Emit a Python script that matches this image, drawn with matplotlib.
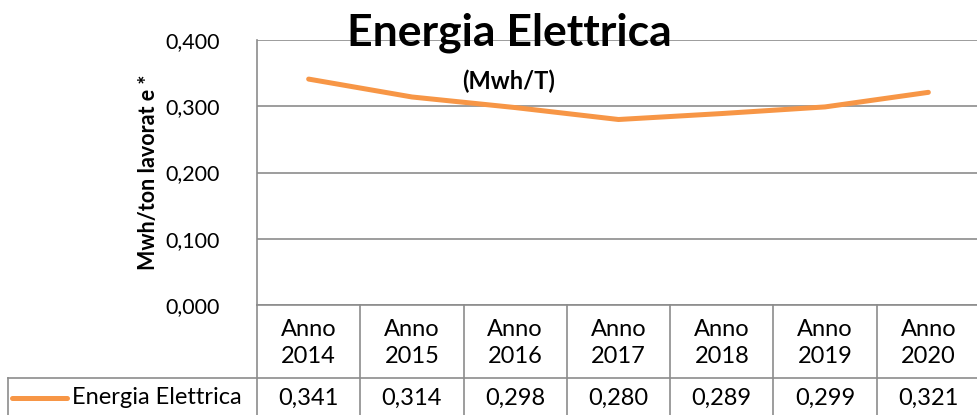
import matplotlib
matplotlib.use('Agg')
import matplotlib.pyplot as plt
import matplotlib.transforms as mtransforms
from matplotlib.lines import Line2D

plt.rcParams['font.family'] = ['Lato', 'DejaVu Sans']

# ── Data ─────────────────────────────────────────────────────────────────────
years = ['2014', '2015', '2016', '2017', '2018', '2019', '2020']
categories = ['Anno\n' + y for y in years]
energia = [0.341, 0.314, 0.298, 0.280, 0.289, 0.299, 0.321]
yticks = [0.0, 0.1, 0.2, 0.3, 0.4]
series_name = 'Energia Elettrica'

ORANGE = '#F79646'
GRID = '#8c8c8c'
FS = 17
W, H = 977, 415

fig = plt.figure(figsize=(W / 100, H / 100), dpi=100)
# plot area in pixels: x 257..980, y 40..305 (from top)
ax = fig.add_axes([257 / W, (H - 305) / H, 723 / W, 265 / H])

x = list(range(len(years)))
ax.plot(x, energia, color=ORANGE, lw=3.6, solid_capstyle='round', zorder=3)

ax.set_xlim(-0.5, len(years) - 0.5)
ax.set_ylim(0, 0.4)
ax.set_yticks(yticks)
ax.set_yticklabels([f'{v:.3f}'.replace('.', ',') for v in yticks], fontsize=15.5)
ax.tick_params(axis='y', length=0, pad=26.5)
ax.set_xticks([])
ax.grid(axis='y', color=GRID, lw=1.2)
ax.set_axisbelow(True)
for s in ['top', 'right']:
    ax.spines[s].set_visible(False)
for s in ['left', 'bottom']:
    ax.spines[s].set_color(GRID)
    ax.spines[s].set_linewidth(1.2)

ax.set_ylabel('Mwh/ton lavorat e *', fontsize=15.5, fontweight='bold')
ax.yaxis.set_label_coords(-0.136, 0.5)

# ── Data table below the axes ────────────────────────────────────────────────
tr = mtransforms.blended_transform_factory(ax.transData, ax.transAxes)
px = 1 / 265  # one pixel in axes fraction (vertical)
row1 = -73 * px   # header / values separator
row_bot = -120 * px
left_edge = -0.5 - 249 / (723 / len(years))

for b in [i - 0.5 for i in range(len(years) + 1)]:
    ax.add_line(Line2D([b, b], [0, row_bot], transform=tr, color=GRID,
                       lw=1.2, clip_on=False))
ax.add_line(Line2D([left_edge, len(years) - 0.5], [row1, row1], transform=tr,
                   color=GRID, lw=1.2, clip_on=False))
ax.add_line(Line2D([left_edge, left_edge], [row1, row_bot], transform=tr,
                   color=GRID, lw=1.2, clip_on=False))

for i, (cat, v) in enumerate(zip(categories, energia)):
    ax.text(i, -38 * px, cat, transform=tr, ha='center', va='center',
            fontsize=FS, linespacing=1.4, color='black')
    ax.text(i, -93 * px, f'{v:.3f}'.replace('.', ','), transform=tr,
            ha='center', va='center', fontsize=FS, color='black')

# legend key inside table
ax.add_line(Line2D([left_edge + 0.04, left_edge + 0.57], [-93 * px, -93 * px],
                   transform=tr, color=ORANGE, lw=3.6, solid_capstyle='round',
                   clip_on=False))
ax.text(left_edge + 0.615, -93 * px, series_name, transform=tr, ha='left',
        va='center', fontsize=FS, color='black')

# ── Titles ───────────────────────────────────────────────────────────────────
fig.text(509 / W, 1 - 33 / H, 'Energia Elettrica', ha='center', va='center',
         fontsize=32, fontweight='bold')
fig.text(509 / W, 1 - 81 / H, '(Mwh/T)', ha='center', va='center',
         fontsize=17, fontweight='bold')

fig.savefig('out.png', dpi=100, facecolor='white')
